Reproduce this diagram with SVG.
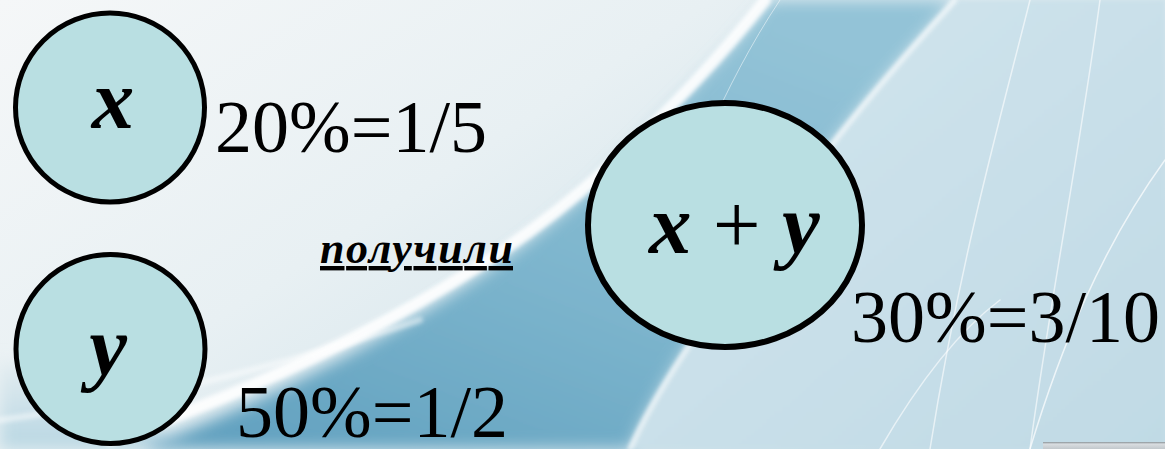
<svg xmlns="http://www.w3.org/2000/svg" width="1165" height="449" viewBox="0 0 1165 449">
<defs>
<style>
.node{fill:#b9dfe2;stroke:#000;stroke-width:5}
.var{font-weight:bold;font-style:italic;font-size:85px;fill:#000}
.val{font-size:74px;fill:#000}
.lbl{font-weight:bold;font-style:italic;font-size:44px;fill:#000;text-decoration:underline}
.streak{fill:none;stroke:#fff;stroke-linecap:round}
</style>
<linearGradient id="bg" x1="0" y1="0" x2="1" y2="0.6">
<stop offset="0" stop-color="#f5f7f8"/>
<stop offset="0.45" stop-color="#e8f0f3"/>
<stop offset="1" stop-color="#c6dde7"/>
</linearGradient>
<linearGradient id="band" x1="0" y1="1" x2="0.7" y2="0">
<stop offset="0" stop-color="#5f9fbe"/>
<stop offset="0.5" stop-color="#7db5cd"/>
<stop offset="1" stop-color="#93c3d7"/>
</linearGradient>
<linearGradient id="right" x1="0" y1="0" x2="1" y2="1">
<stop offset="0" stop-color="#d3e6ee"/>
<stop offset="1" stop-color="#c0dae5"/>
</linearGradient>
<linearGradient id="corner" x1="0" y1="0" x2="0" y2="1">
<stop offset="0" stop-color="#e4edf1"/>
<stop offset="1" stop-color="#b7d6e2"/>
</linearGradient>
<linearGradient id="btn" x1="0" y1="0" x2="0" y2="1">
<stop offset="0" stop-color="#8b9499"/>
<stop offset="0.3" stop-color="#d9dde0"/>
<stop offset="1" stop-color="#c2c8cc"/>
</linearGradient>
<filter id="blur" x="-20%" y="-20%" width="140%" height="140%"><feGaussianBlur stdDeviation="8"/></filter>
<filter id="blur2" x="-20%" y="-20%" width="140%" height="140%"><feGaussianBlur stdDeviation="2"/></filter>
</defs>

<g id="background">
<rect width="1165" height="449" fill="url(#bg)"/>
<path d="M0,360 C60,380 120,400 180,449 L0,449 Z" fill="url(#corner)" filter="url(#blur)"/>
<path d="M140,449 C320,380 500,280 610,170 C680,100 730,50 770,0 L955,0 C900,60 840,130 790,200 C720,300 660,380 630,449 Z" fill="url(#band)" filter="url(#blur)"/>
<path d="M790,200 C840,130 900,60 955,0 L1165,0 L1165,449 L630,449 C660,380 720,300 790,200 Z" fill="url(#right)" filter="url(#blur2)"/>
<path class="streak" d="M110,440 C300,375 485,280 605,170 C675,105 722,55 765,0" stroke-width="12" opacity="0.9" filter="url(#blur2)"/>
<path class="streak" d="M0,420 C150,400 300,360 420,320" stroke-width="6" opacity="0.5" filter="url(#blur2)"/>
<path class="streak" d="M955,0 C900,60 840,130 790,200 C720,300 660,380 630,449" stroke-width="5" opacity="0.7" filter="url(#blur2)"/>
<path class="streak" d="M1030,0 C1000,120 960,260 930,449" stroke-width="1.5" opacity="0.6"/>
<path class="streak" d="M1100,0 C1080,150 1050,300 1030,449" stroke-width="1.5" opacity="0.6"/>
<path class="streak" d="M1165,160 C1100,250 1060,350 1030,449" stroke-width="1.5" opacity="0.7"/>
<path class="streak" d="M780,0 C720,90 690,180 650,260" stroke-width="1" opacity="0.5"/>
<path class="streak" d="M880,449 C920,380 960,330 1000,300" stroke-width="1.5" opacity="0.6"/>
<rect x="1043" y="442" width="122" height="7" fill="url(#btn)"/>
</g>

<g id="connectors"></g>

<g id="node-x">
<circle class="node" cx="110" cy="107.5" r="94.5"/>
<text class="var" x="113" y="128" text-anchor="middle" font-family="Liberation Serif, serif">x</text>
</g>
<g id="node-y">
<circle class="node" cx="110.5" cy="349" r="94.5"/>
<text class="var" x="108" y="375" text-anchor="middle" font-family="Liberation Serif, serif">y</text>
</g>
<g id="node-xy">
<ellipse class="node" cx="725" cy="225" rx="137" ry="122" style="stroke-width:6"/>
<text class="var" x="649" y="253" font-family="Liberation Serif, serif">x<tspan font-weight="normal" font-style="normal"> + </tspan>y</text>
</g>
<g id="labels">
<text class="val" x="215" y="152" font-family="Liberation Serif, serif">20%=1/5</text>
<text class="val" x="236" y="437" font-family="Liberation Serif, serif">50%=1/2</text>
<text class="val" x="851" y="342" font-family="Liberation Serif, serif">30%=3/10</text>
<text class="lbl" x="320" y="263" font-family="Liberation Serif, serif" textLength="193" lengthAdjust="spacing">получили</text>
</g>
</svg>
